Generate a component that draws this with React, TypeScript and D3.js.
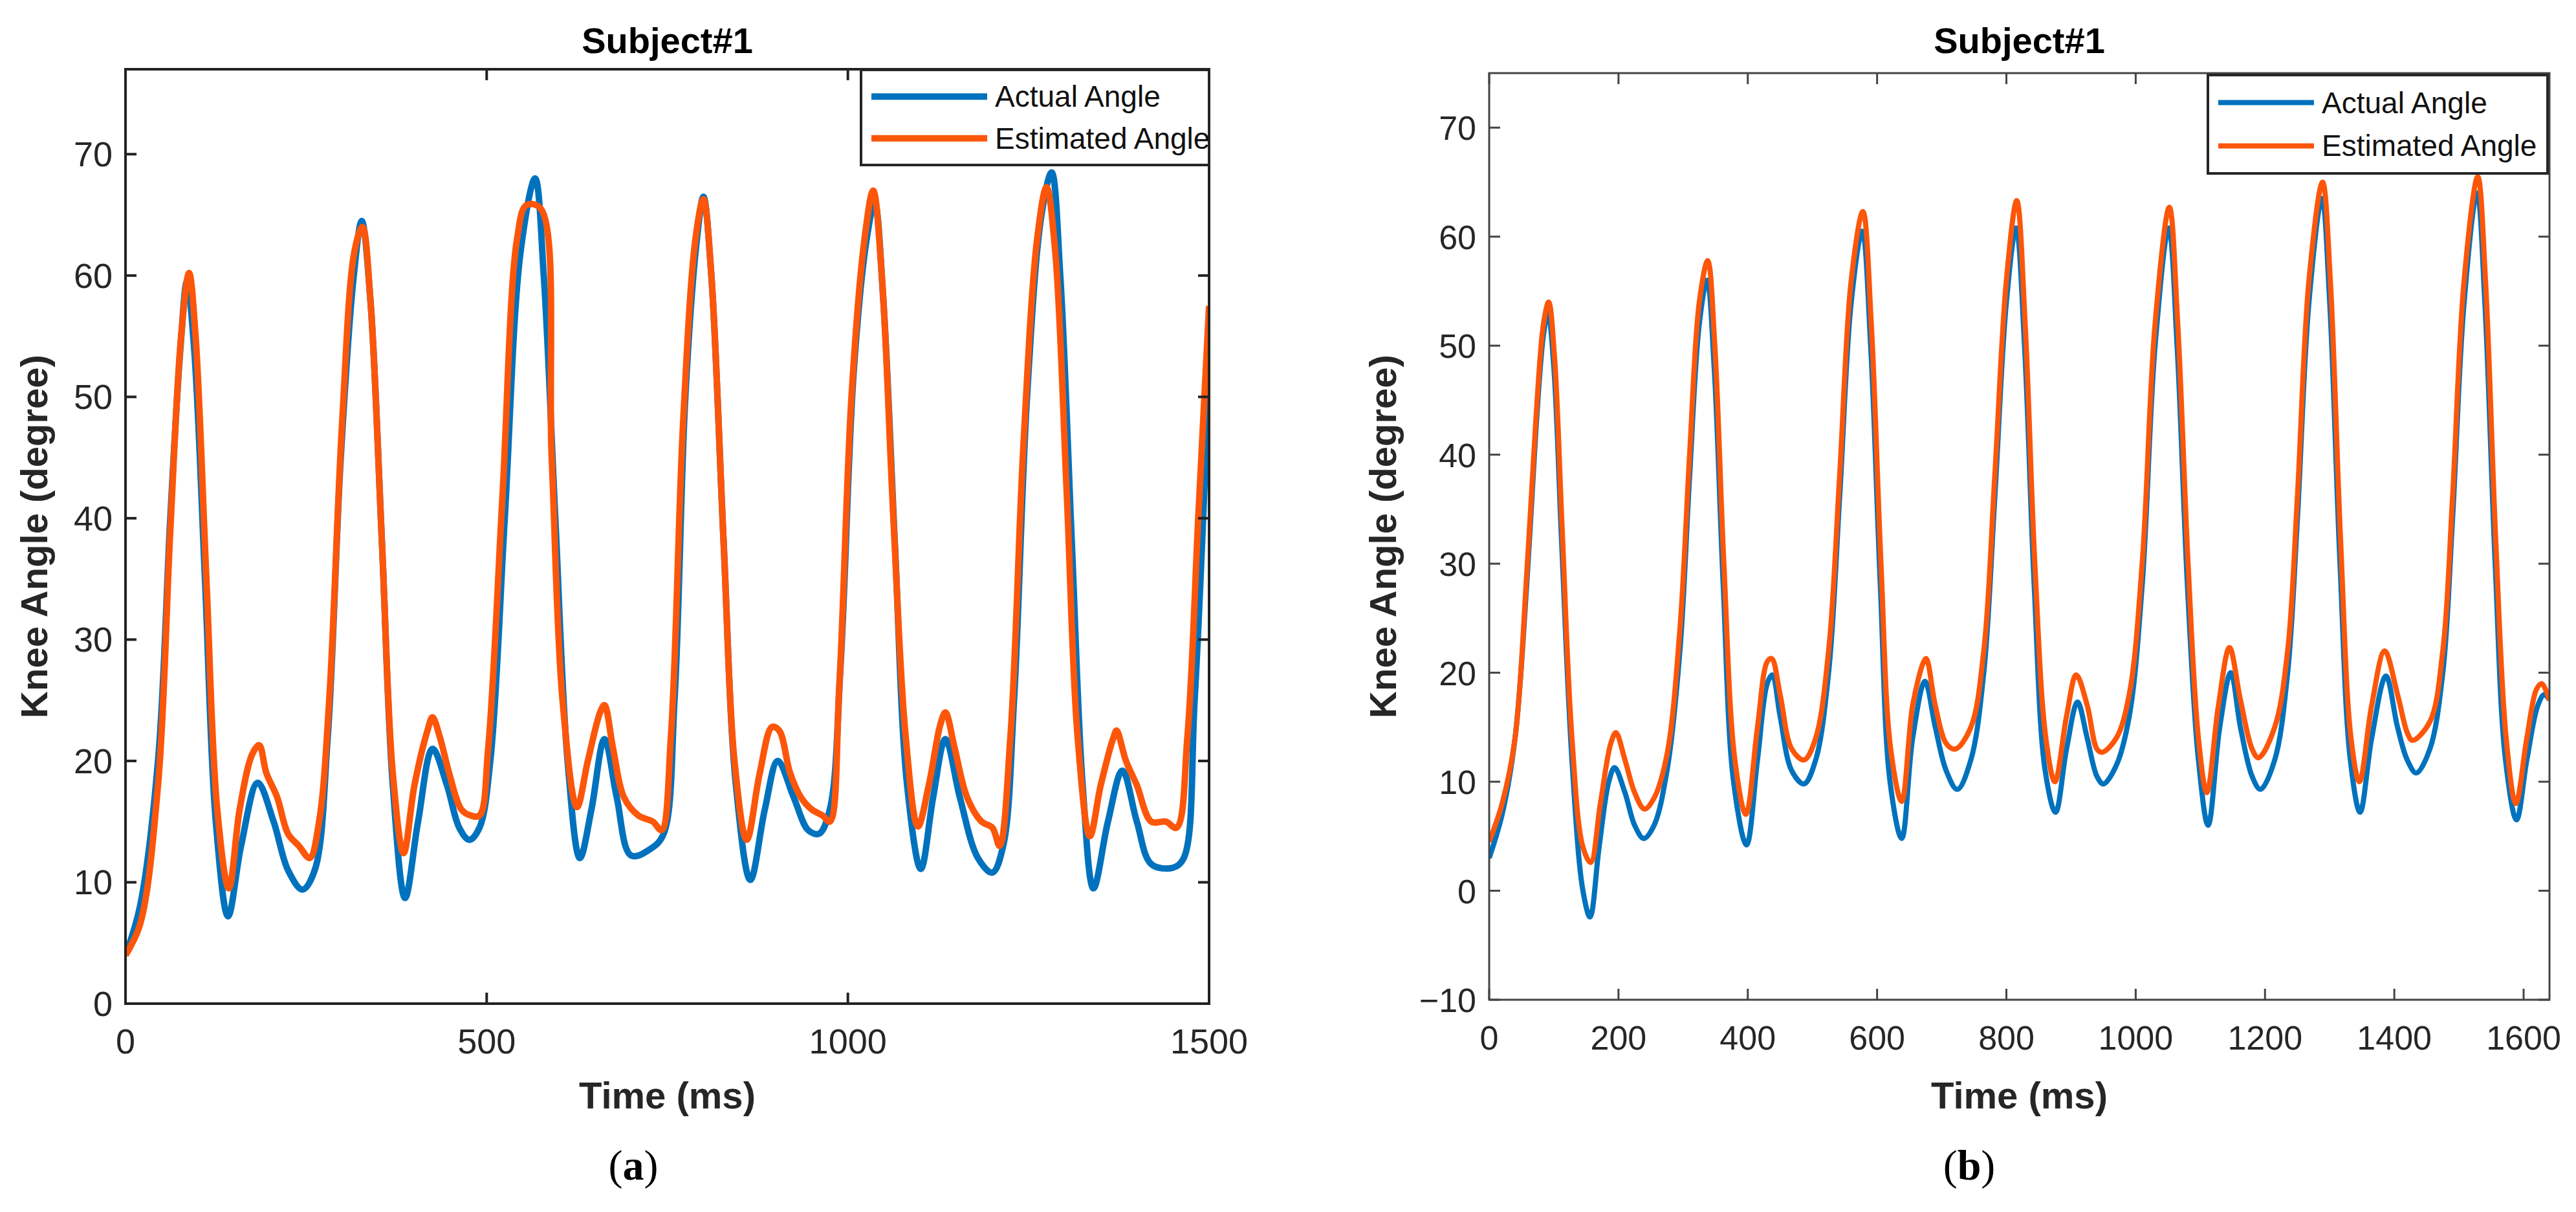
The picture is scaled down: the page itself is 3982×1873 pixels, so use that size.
import React from "react";
import * as d3 from "d3";

const actualA: [number, number][] = [[0,4],[20,8],[45,20],[62,40],[76,54],[85,59.5],[95,54],[110,35],[125,15],[142,7.2],[160,13],[183,18.2],[205,15],[225,11],[245,9.4],[262,11],[280,22],[298,45],[316,60],[327,64.5],[339,58],[355,38],[370,18],[387,8.7],[405,15],[425,21],[445,18],[462,14.5],[476,13.5],[490,14.5],[505,20],[525,40],[547,62],[567,68],[579,60],[595,40],[612,20],[629,12],[645,16],[663,21.8],[680,17],[700,12.2],[728,12.8],[745,14],[760,25],[775,50],[791,63],[800,66.5],[811,60],[828,38],[845,18],[865,10.2],[885,16],[903,20],[925,17],[945,14.3],[960,14],[975,16],[990,28],[1008,52],[1026,63],[1037,66],[1049,58],[1065,38],[1082,18],[1101,11.1],[1118,17],[1135,21.8],[1155,17],[1180,12],[1200,10.8],[1215,13],[1230,25],[1248,50],[1268,65],[1282,68.5],[1294,60],[1310,38],[1325,18],[1340,9.5],[1360,15],[1380,19.2],[1400,15],[1420,11.5],[1450,11.2],[1465,12],[1480,25],[1500,52]];
const estimatedA: [number, number][] = [[0,4],[20,6.5],[45,18],[62,39],[77,55],[88,60.2],[97,55],[112,35],[127,16],[143,9.5],[158,16],[175,20.5],[185,21.3],[195,19],[210,17],[225,14],[240,13],[255,12],[268,15],[282,25],[300,48],[317,62],[328,64],[339,58],[355,38],[370,19],[385,12.4],[400,18],[418,22.5],[425,23.6],[435,22],[448,19],[465,16],[478,15.5],[490,15.5],[502,21],[522,42],[542,63],[555,65.8],[575,65.5],[590,45],[605,25],[625,16.2],[640,20],[657,24],[663,24.6],[675,21],[690,17],[710,15.5],[730,15],[742,14.3],[755,22],[772,48],[789,63],[800,66.3],[811,60],[828,38],[843,20],[860,13.5],[878,19],[895,22.8],[905,22.5],[920,19],[935,17],[950,16],[965,15.5],[975,15],[988,26],[1005,50],[1023,63],[1035,67],[1047,60],[1063,40],[1080,22],[1097,14.6],[1112,18],[1128,23],[1135,24],[1148,21],[1165,17],[1185,15],[1200,14.5],[1210,13],[1225,22],[1243,46],[1262,63],[1275,67.3],[1287,62],[1303,42],[1318,22],[1335,13.8],[1350,18],[1368,22],[1372,22.5],[1385,20],[1400,18],[1420,15],[1440,15],[1455,14.5],[1470,22],[1485,40],[1500,57.5]];

const actualB: [number, number][] = [[0,3],[20,7],[40,14],[58,28],[72,42],[84,51],[91,53],[100,48],[112,32],[128,12],[145,0],[156,-2.4],[170,4],[185,10],[194,11.3],[210,9],[225,6],[239,4.8],[255,6],[275,11],[295,22],[310,38],[325,52],[337,56],[348,48],[362,28],[378,10],[398,4.2],[415,12],[430,19],[438,19.8],[450,16],[468,11],[487,9.8],[505,12],[525,20],[542,36],[560,54],[577,60.5],[590,50],[605,28],[620,10],[638,4.8],[655,14],[674,19.2],[690,15],[707,11],[724,9.3],[745,12],[765,20],[782,36],[800,54],[815,60.8],[828,50],[843,28],[860,11],[876,7.2],[893,13],[910,17.3],[925,14],[940,10.5],[950,9.8],[970,11.5],[990,16],[1010,28],[1030,50],[1051,60.8],[1064,50],[1080,28],[1097,12],[1112,6],[1130,15],[1147,20],[1162,15],[1180,10.5],[1193,9.3],[1215,12],[1235,20],[1250,34],[1268,54],[1288,63.5],[1300,54],[1316,30],[1332,12],[1347,7.2],[1365,14],[1387,19.7],[1405,15],[1420,12],[1434,10.8],[1455,13],[1475,20],[1490,34],[1508,54],[1528,64],[1540,54],[1556,30],[1572,12],[1589,6.5],[1605,12],[1622,17],[1632,18],[1640,17.5]];
const estimatedB: [number, number][] = [[0,4.5],[20,8],[40,14],[58,29],[72,43],[84,52],[92,54],[101,49],[113,33],[128,14],[145,4],[157,2.6],[172,8],[188,13.5],[196,14.5],[210,12],[225,9],[240,7.5],[255,8.5],[275,12.5],[295,24],[310,40],[325,54],[338,57.8],[349,50],[363,30],[380,12],[397,7],[415,15],[430,21],[437,21.3],[450,18],[468,13],[487,12],[505,14],[525,22],[542,38],[560,56],[578,62.3],[591,52],[606,30],[621,13],[638,8.2],[655,17],[672,21],[676,21.3],[690,17],[707,13.5],[721,13],[745,15],[765,22],[782,38],[800,56],[816,63.3],[829,52],[844,30],[861,14],[875,10],[893,16],[908,19.8],[925,17],[940,13],[948,12.7],[970,14],[990,18],[1010,30],[1030,52],[1052,62.7],[1065,52],[1081,30],[1097,14],[1110,9],[1128,17],[1145,22.3],[1162,17.5],[1180,13],[1190,12.2],[1215,15],[1235,22],[1250,36],[1268,56],[1289,65],[1301,56],[1317,32],[1333,14],[1346,10],[1365,17],[1385,22],[1405,18],[1420,14.5],[1428,13.8],[1455,15.5],[1475,22],[1490,36],[1508,56],[1529,65.5],[1541,56],[1557,32],[1573,14],[1588,8],[1605,14],[1620,18.5],[1628,19],[1640,17.5]];

const xTicksA = [0, 500, 1000, 1500];
const yTicksA = [0, 10, 20, 30, 40, 50, 60, 70];
const xTicksB = [0, 200, 400, 600, 800, 1000, 1200, 1400, 1600];
const yTicksB = [-10, 0, 10, 20, 30, 40, 50, 60, 70];
const seriesNames = ["Actual Angle", "Estimated Angle"];
const BLUE = "#0072BD";
const ORANGE = "#FC560A";

const FONT = "Liberation Sans, Arial, sans-serif";

function Panel(p: any) {
  const x = d3.scaleLinear().domain(p.xd).range([p.l, p.r]);
  const y = d3.scaleLinear().domain(p.yd).range([p.b, p.t]);
  const line = d3.line<[number, number]>().x(d => x(d[0])).y(d => y(d[1])).curve(d3.curveCatmullRom.alpha(0.5));
  const id = "clip" + p.id;
  const ax = p.axisColor;
  const tl = 17;
  return (
    <g>
      <defs><clipPath id={id}><rect x={p.l} y={p.t} width={p.r - p.l} height={p.b - p.t} /></clipPath></defs>
      <g clipPath={`url(#${id})`}>
        <path d={line(p.a) || ""} fill="none" stroke={BLUE} strokeWidth={p.lw} strokeLinejoin="round" />
        <path d={line(p.e) || ""} fill="none" stroke={ORANGE} strokeWidth={p.lw} strokeLinejoin="round" />
      </g>
      <rect x={p.l} y={p.t} width={p.r - p.l} height={p.b - p.t} fill="none" stroke={ax} strokeWidth={p.aw} />
      {p.xt.map((t: number) => (
        <g key={"x" + t}>
          <line x1={x(t)} x2={x(t)} y1={p.b} y2={p.b - tl} stroke={ax} strokeWidth={p.aw} />
          <line x1={x(t)} x2={x(t)} y1={p.t} y2={p.t + tl} stroke={ax} strokeWidth={p.aw} />
          <text x={x(t)} y={p.b + 77} textAnchor="middle" fontSize={p.fs} fontFamily={FONT} fill="#262626">{t}</text>
        </g>
      ))}
      {p.yt.map((t: number) => (
        <g key={"y" + t}>
          <line x1={p.l} x2={p.l + tl} y1={y(t)} y2={y(t)} stroke={ax} strokeWidth={p.aw} />
          <line x1={p.r} x2={p.r - tl} y1={y(t)} y2={y(t)} stroke={ax} strokeWidth={p.aw} />
          <text x={p.l - 20} y={y(t) + 19} textAnchor="end" fontSize={p.fs} fontFamily={FONT} fill="#262626">{t < 0 ? "\u2212" + Math.abs(t) : t}</text>
        </g>
      ))}
      <text x={(p.l + p.r) / 2} y={74} textAnchor="middle" fontSize={56} fontWeight="bold" fontFamily={FONT}>Subject#1</text>
      <text x={(p.l + p.r) / 2} y={1705} textAnchor="middle" fontSize={58} fontWeight="bold" fontFamily={FONT} fill="#262626">Time (ms)</text>
      <text transform={`translate(${p.yl},${(p.t + p.b) / 2}) rotate(-90)`} textAnchor="middle" fontSize={58} fontWeight="bold" fontFamily={FONT} fill="#262626">Knee Angle (degree)</text>
      <rect x={p.lg[0]} y={p.lg[1]} width={p.lg[2] - p.lg[0]} height={p.lg[3] - p.lg[1]} fill="white" stroke="#262626" strokeWidth={4} />
      {seriesNames.map((n, i) => {
        const yy = p.lg[1] + (p.lg[3] - p.lg[1]) * (i === 0 ? 0.28 : 0.72);
        return (
          <g key={n}>
            <line x1={p.lg[0] + 16} x2={p.lg[0] + p.lgLine} y1={yy} y2={yy} stroke={i === 0 ? BLUE : ORANGE} strokeWidth={p.lw} />
            <text x={p.lg[0] + p.lgLine + 12} y={yy + 16} fontSize={46} fontFamily={FONT} fill="#111">{n}</text>
          </g>
        );
      })}
      <text x={p.cap} y={1815} textAnchor="middle" fontSize={66} fontFamily="Liberation Serif, Times New Roman, serif">(<tspan fontWeight="bold">{p.capLetter}</tspan>)</text>
    </g>
  );
}

export default function App() {
  return (
    <svg width={3982} height={1873} style={{ display: "block", background: "white" }}>
      <Panel id="a" l={186} r={1861} t={99} b={1543} xd={[0, 1500]} yd={[0, 77]} a={actualA} e={estimatedA}
        xt={xTicksA} yt={yTicksA} lw={10} aw={4} axisColor="#222" fs={54} yl={65}
        lg={[1323, 100, 1861, 247]} lgLine={195} cap={971} capLetter="a" />
      <Panel id="b" l={2294} r={3933} t={105} b={1537} xd={[0, 1640]} yd={[-10, 75]} a={actualB} e={estimatedB}
        xt={xTicksB} yt={yTicksB} lw={8} aw={3} axisColor="#444" fs={52} yl={2150}
        lg={[3405, 108, 3930, 260]} lgLine={164} cap={3036} capLetter="b" />
    </svg>
  );
}
